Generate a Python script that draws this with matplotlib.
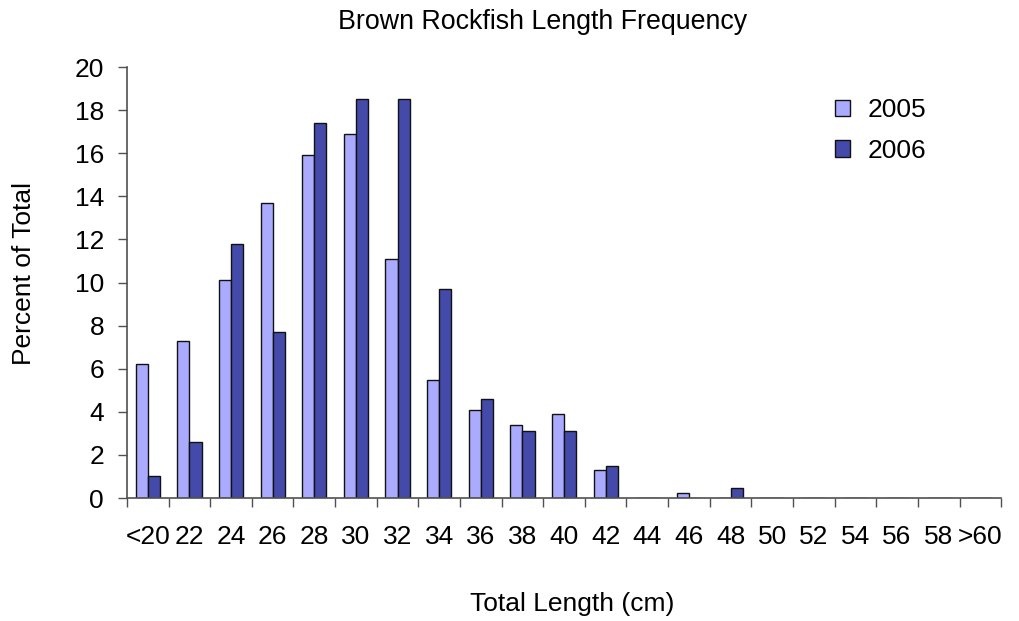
import matplotlib.pyplot as plt
import numpy as np

plt.rcParams['font.family'] = ['Liberation Sans', 'DejaVu Sans']

# length classes (cm) and percent of total per year
categories = ["<20", "22", "24", "26", "28", "30", "32", "34", "36", "38", "40",
              "42", "44", "46", "48", "50", "52", "54", "56", "58", ">60"]
pct_2005 = [6.2, 7.3, 10.1, 13.7, 15.9, 16.9, 11.1, 5.5, 4.1, 3.4, 3.9,
            1.3, 0.0, 0.23, 0.0, 0.0, 0.0, 0.0, 0.0, 0.0, 0.0]
pct_2006 = [1.0, 2.6, 11.8, 7.7, 17.4, 18.5, 18.5, 9.7, 4.6, 3.1, 3.1,
            1.5, 0.0, 0.0, 0.46, 0.0, 0.0, 0.0, 0.0, 0.0, 0.0]
y_ticks = [0, 2, 4, 6, 8, 10, 12, 14, 16, 18, 20]

color_2005 = "#AAAAFF"
color_2006 = "#444AAA"
axis_color = "#505050"

fig = plt.figure(figsize=(10.2, 6.21), dpi=100)
ax = fig.add_axes([0.1245, 0.198, 0.857, 0.694])

x = np.arange(len(categories))
w = 0.29
ax.bar(x - w / 2, pct_2005, w, color=color_2005, edgecolor="#111111", linewidth=1.0, label="2005")
ax.bar(x + w / 2, pct_2006, w, color=color_2006, edgecolor="#111111", linewidth=1.0, label="2006")

ax.set_xlim(-0.5, len(categories) - 0.5)
ax.set_ylim(0, 20)
ax.set_yticks(y_ticks)
ax.tick_params(axis="y", labelsize=19, direction="out", length=6.5, width=1, color=axis_color, pad=10)

# category labels at centres, tick marks at the boundaries
ax.set_xticks(x)
ax.set_xticklabels(categories)
ax.tick_params(axis="x", which="major", length=0, labelsize=19, pad=19.5)
ax.set_xticks(np.arange(len(categories) + 1) - 0.5, minor=True)
ax.tick_params(axis="x", which="minor", direction="out", length=6.5, width=1, color=axis_color)

for side in ["top", "right"]:
    ax.spines[side].set_visible(False)
for side in ["left", "bottom"]:
    ax.spines[side].set_color(axis_color)
    ax.spines[side].set_linewidth(1.2)

ax.set_ylabel("Percent of Total", fontsize=19)
ax.yaxis.set_label_coords(-0.118, 0.52)
ax.yaxis.label.set_va("center")
ax.set_xlabel("Total Length (cm)", fontsize=19)
ax.xaxis.set_label_coords(0.509, -0.245)
ax.xaxis.label.set_va("center")
fig.text(543 / 1020, 1 - 22 / 621, "Brown Rockfish Length Frequency", fontsize=19.3,
         ha="center", va="center")

ax.legend(loc="upper left", bbox_to_anchor=(0.81, 0.928), frameon=False, fontsize=19,
          borderpad=0, borderaxespad=0,
          handlelength=0.57, handleheight=0.57, handletextpad=0.68, labelspacing=0.63)

fig.savefig("out.png", dpi=100)
